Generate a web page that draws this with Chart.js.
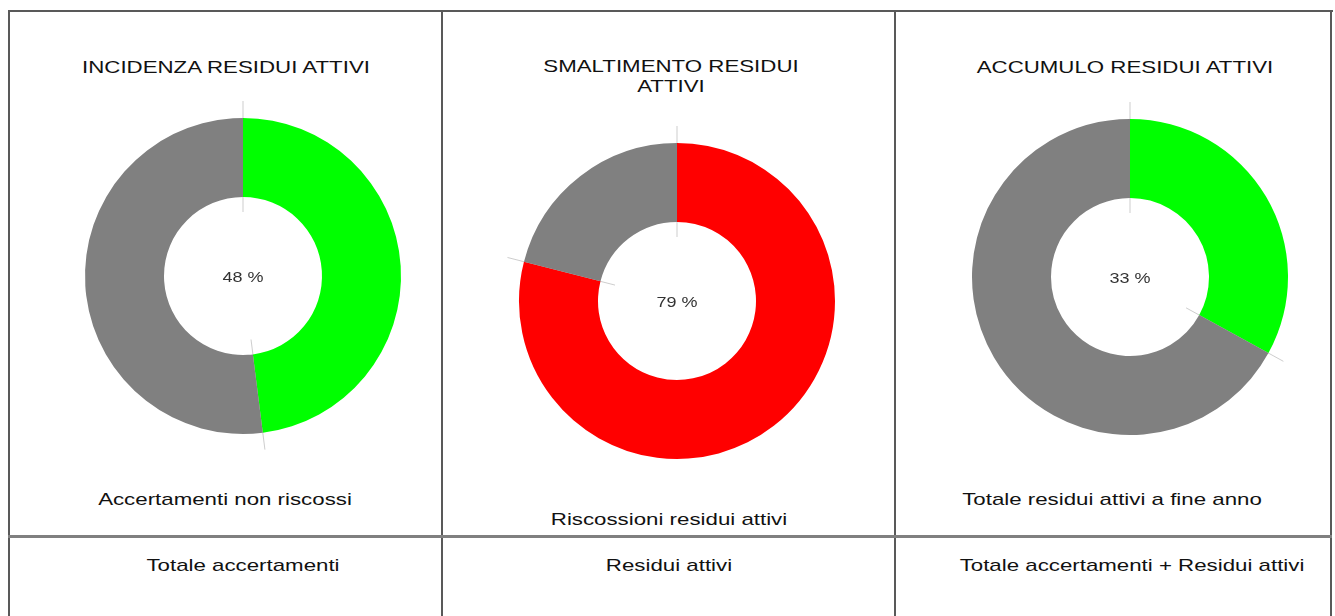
<!DOCTYPE html>
<html lang="it">
<head>
<meta charset="utf-8">
<title>Residui attivi</title>
<script src="https://cdn.jsdelivr.net/npm/chart.js@4/dist/chart.umd.min.js"></script>
<style>
  html, body { margin: 0; padding: 0; background: #ffffff; }
  body { width: 1335px; height: 616px; position: relative; overflow: hidden;
         font-family: "Liberation Sans", Arial, Helvetica, sans-serif; color: #111; }
  .line { position: absolute; background: #595959; }
  .hline { position: absolute; background: #808080; }
  .txt { position: absolute; white-space: pre; text-align: center; font-size: 17px;
         line-height: 20px; transform: translateX(-50%) scaleX(1.31); transform-origin: 50% 0; }
  .ctr { position: absolute; white-space: pre; font-size: 15px; line-height: 18px; color: #333;
         transform: translate(-50%, -50%) scaleX(1.2); transform-origin: 50% 50%; }
  canvas { position: absolute; }
</style>
</head>
<body>
<div class="line" style="left:8px;top:10px;width:1325px;height:2px;"></div>
<div class="line" style="left:8px;top:10px;width:2px;height:606px;"></div>
<div class="line" style="left:441px;top:10px;width:2px;height:606px;"></div>
<div class="line" style="left:894px;top:10px;width:2px;height:606px;"></div>
<div class="line" style="left:1330px;top:10px;width:2px;height:606px;"></div>
<div class="hline" style="left:8px;top:535px;width:1324px;height:3px;"></div>

<canvas id="c0" width="356" height="356"></canvas>
<canvas id="c1" width="356" height="356"></canvas>
<canvas id="c2" width="356" height="356"></canvas>

<script>
// ---- data ----
const chartTitles = ["INCIDENZA RESIDUI ATTIVI", "SMALTIMENTO RESIDUI\nATTIVI", "ACCUMULO RESIDUI ATTIVI"];
const sharePercent = [48, 79, 33];
const numeratorLabels = ["Accertamenti non riscossi", "Riscossioni residui attivi", "Totale residui attivi a fine anno"];
const denominatorLabels = ["Totale accertamenti", "Residui attivi", "Totale accertamenti + Residui attivi"];

// ---- layout / style (not data) ----
const layout = {
  chartCenters: [[243, 276], [677, 301], [1130, 277]],
  canvasSize: 356,
  pad: 20,
  titlePos: [[226, 58], [671, 57], [1125, 58]],
  numPos: [[225, 490], [669, 510], [1112, 490]],
  denPos: [[243, 556], [669, 556], [1132, 556]]
};
const shareColors = ["#00ff00", "#ff0000", "#00ff00"];
const restColor = "#808080";

function addText(str, pos, cls) {
  const d = document.createElement("div");
  d.className = cls;
  d.textContent = str;
  d.style.left = pos[0] + "px";
  d.style.top = pos[1] + "px";
  document.body.appendChild(d);
  return d;
}

const boundaryLines = {
  id: "boundaryLines",
  beforeDatasetsDraw(chart) {
    const ctx = chart.ctx;
    const meta = chart.getDatasetMeta(0);
    ctx.save();
    ctx.strokeStyle = "rgba(200,200,200,0.9)";
    ctx.lineWidth = 1;
    meta.data.forEach(arc => {
      const p = arc.getProps(["x", "y", "startAngle", "innerRadius", "outerRadius"], true);
      const r0 = p.innerRadius - 15, r1 = p.outerRadius + 17;
      ctx.beginPath();
      ctx.moveTo(p.x + r0 * Math.cos(p.startAngle), p.y + r0 * Math.sin(p.startAngle));
      ctx.lineTo(p.x + r1 * Math.cos(p.startAngle), p.y + r1 * Math.sin(p.startAngle));
      ctx.stroke();
    });
    ctx.restore();
  }
};

sharePercent.forEach((v, i) => {
  const cv = document.getElementById("c" + i);
  const [cx, cy] = layout.chartCenters[i];
  cv.style.left = (cx - layout.canvasSize / 2) + "px";
  cv.style.top = (cy - layout.canvasSize / 2) + "px";
  const chart = new Chart(cv, {
    type: "doughnut",
    data: {
      labels: [numeratorLabels[i], denominatorLabels[i]],
      datasets: [{
        data: [v, 100 - v],
        backgroundColor: [shareColors[i], restColor],
        borderWidth: 0,
        hoverOffset: 0
      }]
    },
    options: {
      responsive: false,
      devicePixelRatio: 1,
      animation: false,
      cutout: "50%",
      layout: { padding: layout.pad },
      plugins: { legend: { display: false }, tooltip: { enabled: false }, title: { display: false } }
    },
    plugins: [boundaryLines]
  });
  const arc = chart.getDatasetMeta(0).data[0];
  addText(v + " %", [cx - layout.canvasSize / 2 + arc.x, cy - layout.canvasSize / 2 + arc.y + 1], "ctr");
  addText(chartTitles[i], layout.titlePos[i], "txt");
  addText(numeratorLabels[i], layout.numPos[i], "txt");
  addText(denominatorLabels[i], layout.denPos[i], "txt");
});
</script>
</body>
</html>
